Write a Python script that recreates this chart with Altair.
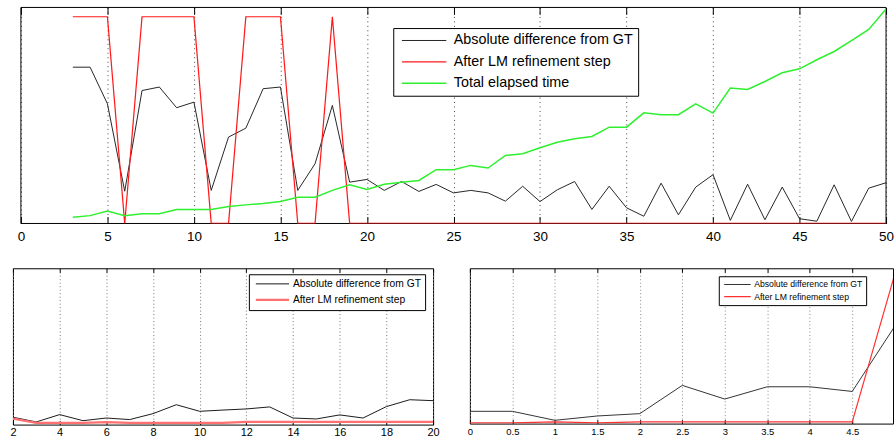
import altair as alt
import pandas as pd

FONT = "Liberation Sans"
NAMES3 = ["Absolute difference from GT", "After LM refinement step", "Total elapsed time"]
NAMES2 = NAMES3[:2]

# ---- top panel: iterations 3..50 ----
top_x = list(range(3, 51))
top_abs = [0.756, 0.756, 0.579, 0.156, 0.643, 0.660, 0.560, 0.587, 0.160, 0.418,
           0.461, 0.652, 0.660, 0.160, 0.289, 0.571, 0.200, 0.213, 0.160, 0.203,
           0.155, 0.189, 0.148, 0.160, 0.148, 0.108, 0.180, 0.106, 0.163, 0.203,
           0.068, 0.180, 0.076, 0.035, 0.195, 0.042, 0.176, 0.236, 0.015, 0.190,
           0.018, 0.176, 0.023, 0.011, 0.187, 0.010, 0.171, 0.197]
top_lm = [1, 1, 1, 0, 1, 1, 1, 1, 0, 0,
          1, 1, 1, 0, 0, 1, 0, 0, 0, 0,
          0, 0, 0, 0, 0, 0, 0, 0, 0, 0,
          0, 0, 0, 0, 0, 0, 0, 0, 0, 0,
          0, 0, 0, 0, 0, 0, 0, 0]
top_time = [0.030, 0.038, 0.060, 0.038, 0.047, 0.047, 0.068, 0.068, 0.068, 0.082,
            0.090, 0.097, 0.106, 0.127, 0.127, 0.160, 0.187, 0.164, 0.190, 0.200,
            0.208, 0.260, 0.260, 0.281, 0.268, 0.329, 0.337, 0.366, 0.393, 0.410,
            0.421, 0.466, 0.466, 0.535, 0.526, 0.526, 0.579, 0.534, 0.655, 0.648,
            0.687, 0.729, 0.748, 0.792, 0.832, 0.885, 0.939, 1.038]
top_ticks = list(range(0, 51, 5))
top_xdom = [0, 50]
top_ydom = [0, 1.045]

# ---- bottom-left panel: 2..20 ----
bl_x = list(range(2, 21))
bl_abs = [0.047, 0.017, 0.064, 0.025, 0.042, 0.032, 0.070, 0.127, 0.085, 0.093,
          0.100, 0.113, 0.042, 0.036, 0.062, 0.042, 0.115, 0.159, 0.153]
bl_lm = [0.038, 0.011, 0.011, 0.011, 0.016, 0.011, 0.011, 0.011, 0.011, 0.011,
         0.017, 0.017, 0.017, 0.017, 0.017, 0.017, 0.017, 0.017, 0.017]
bl_ticks = list(range(2, 21, 2))

# ---- bottom-right panel: 0..5 ----
br_x = [0, 0.5, 1, 1.5, 2, 2.5, 3, 3.5, 4, 4.5, 5]
br_abs = [0.079, 0.079, 0.021, 0.049, 0.064, 0.246, 0.158, 0.237, 0.237, 0.207, 0.626]
br_lm = [0.004, 0.004, 0.011, 0.004, 0.011, 0.011, 0.011, 0.011, 0.011, 0.011, 0.960]
br_ticks = [0, 0.5, 1, 1.5, 2, 2.5, 3, 3.5, 4, 4.5]


def long_frame(xs, series):
    rows = []
    for name, ys in series:
        for x, y in zip(xs, ys):
            rows.append({"x": x, "y": y, "series": name})
    return pd.DataFrame(rows)


def panel(df, names, colors, widths, xscale, yscale, w, h, ticks, tick_len,
          label_size, label_pad, grid_color, grid_dash, legend, frame=None):
    lines = alt.Chart(df).mark_line(clip=True).encode(
        x=alt.X("x:Q", scale=xscale, title=None,
                axis=alt.Axis(values=ticks, format="~g", grid=True, gridColor=grid_color,
                              gridDash=grid_dash, gridWidth=1, ticks=False, domain=False,
                              labelFont=FONT, labelFontSize=label_size, labelColor="black",
                              labelPadding=label_pad, labelFlush=False, labelOverlap=False)),
        y=alt.Y("y:Q", scale=yscale, axis=None),
        color=alt.Color("series:N", scale=alt.Scale(domain=names, range=colors), legend=legend),
        strokeWidth=alt.StrokeWidth("series:N", scale=alt.Scale(domain=names, range=widths),
                                    legend=None),
    )

    def tick_layer(orient):
        # inward-pointing tick marks along the top and bottom edges of the frame
        return alt.Chart(df).mark_line(opacity=0).encode(
            x=alt.X("x:Q", scale=xscale, title=None,
                    axis=alt.Axis(orient=orient, offset=-tick_len, values=ticks,
                                  tickSize=tick_len, tickColor="black", tickWidth=1,
                                  labels=False, domain=False, grid=False)),
            y=alt.Y("y:Q", scale=yscale, axis=None),
            detail="series:N",
        )

    layers = [lines, tick_layer("top"), tick_layer("bottom")]
    if frame is not None:
        layers.insert(0, frame)
    props = dict(width=w, height=h)
    if frame is None:
        props["view"] = alt.ViewBackground(stroke="black", strokeWidth=1)
    return (alt.layer(*layers)
            .resolve_axis(x="independent")
            .properties(**props))


def make_legend(x, y, font_size, sym_len, sym_width, pad, row_pad, clip_h,
                sym_off, label_off, trail):
    return alt.Legend(
        orient="none", legendX=x, legendY=y, title=None,
        symbolType="stroke", symbolSize=sym_len ** 2, symbolStrokeWidth=sym_width,
        labelFont=FONT, labelFontSize=font_size, labelColor="black", labelLimit=600,
        padding=pad, rowPadding=row_pad, clipHeight=clip_h,
        symbolOffset=sym_off, labelOffset=label_off,
        strokeColor="black", fillColor="white",
        labelExpr="datum.label + '" + " " * trail + "'",
    )


top_df = long_frame(top_x, [(NAMES3[0], top_abs), (NAMES3[1], top_lm), (NAMES3[2], top_time)])
bl_df = long_frame(bl_x, [(NAMES2[0], bl_abs), (NAMES2[1], bl_lm)])
br_df = long_frame(br_x, [(NAMES2[0], br_abs), (NAMES2[1], br_lm)])

# the top axes sit 8px further right than the lower-left axes
top_xscale = alt.Scale(domain=top_xdom, range=[8, 877], nice=False, zero=False)
top_yscale = alt.Scale(domain=top_ydom, nice=False, zero=False)
top_frame = alt.Chart(pd.DataFrame({"k": [0]})).mark_rect(
    filled=False, stroke="black", strokeWidth=1).encode(
    x=alt.datum(top_xdom[0], scale=top_xscale, axis=None), x2=alt.datum(top_xdom[1]),
    y=alt.datum(top_ydom[0], scale=top_yscale, axis=None), y2=alt.datum(top_ydom[1]))

top = panel(top_df, NAMES3, ["#262626", "#ff1a1a", "#2ef02e"], [1, 1.5, 1.6],
            top_xscale, top_yscale, 877, 217, top_ticks, 7, 13.5, 6, "#444444", [1, 3.5],
            make_legend(382, 20.7, 14.4, 44.6, 1.5, 5, 5.5, 15, 2.5, 6.3, 2),
            frame=top_frame)

bl = panel(bl_df, NAMES2, ["#1a1a1a", "#ff7070"], [1, 2.2],
           alt.Scale(domain=[2, 20], nice=False, zero=False),
           alt.Scale(domain=[0, 1], nice=False, zero=False),
           422, 157, bl_ticks, 4, 11, 1.5, "#777777", [1, 2.5],
           make_legend(237, 6, 10.3, 33.3, 2.2, 4.15, 5, 11, 1.5, 2.55, 2))

br = panel(br_df, NAMES2, ["#333333", "#ff3030"], [1, 1.2],
           alt.Scale(domain=[0, 4.98], nice=False, zero=False),
           alt.Scale(domain=[0, 1], nice=False, zero=False),
           425, 156, br_ticks, 4, 9.5, 2.6, "#888888", [1, 2.5],
           make_legend(250, 8, 8.7, 26.6, 1.2, 3.55, 2.2, 9.5, 1.15, 2.85, 0))

row2 = (alt.hconcat(bl, br, spacing=37, bounds="flush")
        .resolve_scale(color="independent", strokeWidth="independent")
        .resolve_legend(color="independent"))

chart = (alt.vconcat(top, row2, spacing=45, bounds="flush")
         .resolve_scale(color="independent", strokeWidth="independent")
         .resolve_legend(color="independent")
         .properties(padding={"left": 9, "top": 5.5, "right": 0, "bottom": 0})
         .configure(background="white", font=FONT)
         .configure_view(stroke=None))

chart.save("out.html", embed_options={"renderer": "svg", "actions": False})
